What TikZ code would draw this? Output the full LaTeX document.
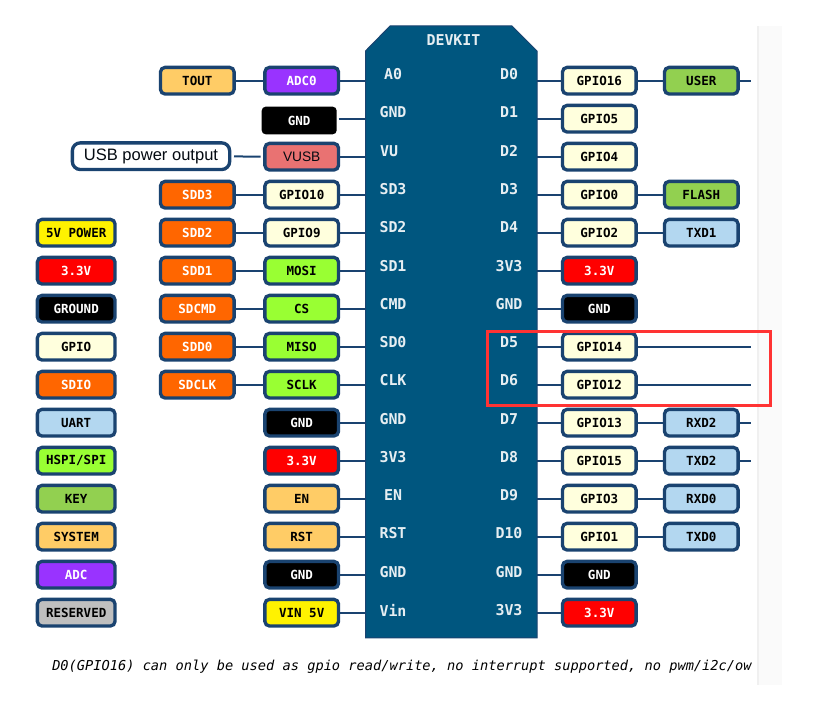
\documentclass[tikz,border=0pt]{standalone}
\usepackage{fontspec}
\setmainfont{Liberation Sans}
\setmonofont{DejaVu Sans Mono}
\definecolor{navy}{HTML}{1A4370}
\definecolor{boardblue}{HTML}{00567F}
\definecolor{boardtext}{HTML}{E6EEF2}
\definecolor{gpiofill}{HTML}{FFFFDD}
\definecolor{sdfill}{HTML}{FF6600}
\definecolor{spifill}{HTML}{99FF33}
\definecolor{keyfill}{HTML}{92D050}
\definecolor{sysfill}{HTML}{FFCC66}
\definecolor{adcfill}{HTML}{9933FF}
\definecolor{uartfill}{HTML}{B3D7F0}
\definecolor{resfill}{HTML}{BFBFBF}
\definecolor{usbfill}{HTML}{E97272}
\tikzset{
	pinbox/.style={draw=navy, line width=2.5pt, rounded corners=3.5pt, inner sep=0pt,
		minimum width=55.25pt, minimum height=20pt,
		font=\ttfamily\bfseries\fontsize{9.4}{11}\selectfont},
	gpiobox/.style={pinbox, fill=gpiofill, text=black},
	sdbox/.style={pinbox, fill=sdfill, text=white},
	spibox/.style={pinbox, fill=spifill, text=black},
	keybox/.style={pinbox, fill=keyfill, text=black},
	sysbox/.style={pinbox, fill=sysfill, text=black},
	adcbox/.style={pinbox, fill=adcfill, text=white},
	uartbox/.style={pinbox, fill=uartfill, text=black},
	resbox/.style={pinbox, fill=resfill, text=black},
	redbox/.style={pinbox, fill=red, text=white},
	gndbox/.style={pinbox, fill=black, text=white},
	yelbox/.style={pinbox, fill=yellow, text=black},
	usbbox/.style={pinbox, fill=usbfill, text=black!85!navy, font=\fontsize{10.3}{12}\selectfont},
	pinlabel/.style={text=boardtext, inner sep=0pt, font=\ttfamily\bfseries\fontsize{11.2}{13}\selectfont},
	wire/.style={draw=navy, line width=1.5pt}
}
\begin{document}
\begin{tikzpicture}[x=0.75pt,y=-0.75pt]
	\useasboundingbox (0,0) rectangle (826,716);
	\fill[black!2] (757,26) rectangle (782,685);
	\fill[black!6] (757,26) rectangle (759,685);
	% board
	\coordinate (boardW) at (365.5,332);
	\coordinate (boardE) at (537,332);
	\filldraw[draw=navy, line width=0.75pt, fill=boardblue] (365.5,51) -- (390,26) -- (512,26) -- (537,51) -- (537,638) -- (365.5,638) -- cycle;
	\node[pinlabel] (devkit) at (453.5,40) {DEVKIT};
	% pins on the left side
	\foreach \i/\txt/\sty [evaluate=\i as \y using 80.7+38*\i] in
		{0/ADC0/adcbox,2/VUSB/usbbox,3/GPIO10/gpiobox,4/GPIO9/gpiobox,5/MOSI/spibox,6/CS/spibox,7/MISO/spibox,
		8/SCLK/spibox,9/GND/gndbox,10/3.3V/redbox,11/EN/sysbox,12/RST/sysbox,13/GND/gndbox,14/VIN 5V/yelbox} {
		\node[\sty] (inL\i) at (301.7,\y) {\txt};
		\draw[wire] (inL\i.east) -- (inL\i.east -| boardW);
	}
	\foreach \i/\txt in {0/A0,1/GND,3/SD3,4/SD2,5/SD1,6/CMD,7/SD0,8/CLK,9/GND,10/3V3,11/EN,12/RST,13/GND,14/Vin}
		\node[pinlabel] (nameL\i) at (393,74.3+38.26*\i) {\txt};
	\node[pinlabel] (nameL2) at (389,150.8) {VU};
	% second column on the left
	\foreach \i/\txt/\sty [evaluate=\i as \y using 80.7+38*\i] in
		{0/TOUT/sysbox,3/SDD3/sdbox,4/SDD2/sdbox,5/SDD1/sdbox,6/SDCMD/sdbox,7/SDD0/sdbox,8/SDCLK/sdbox} {
		\node[\sty] (outL\i) at (197.3,\y) {\txt};
		\draw[wire] (outL\i) -- (inL\i);
	}
	% pins on the right side
	\foreach \i/\txt/\sty [evaluate=\i as \y using 80.7+38*\i] in
		{0/GPIO16/gpiobox,1/GPIO5/gpiobox,2/GPIO4/gpiobox,3/GPIO0/gpiobox,4/GPIO2/gpiobox,5/3.3V/redbox,6/GND/gndbox,7/GPIO14/gpiobox,
		8/GPIO12/gpiobox,9/GPIO13/gpiobox,10/GPIO15/gpiobox,11/GPIO3/gpiobox,12/GPIO1/gpiobox,13/GND/gndbox,14/3.3V/redbox} {
		\node[\sty] (inR\i) at (599.3,\y) {\txt};
		\draw[wire] (inR\i.west) -- (inR\i.west -| boardE);
	}
	\foreach \i/\txt in {0/D0,1/D1,2/D2,3/D3,4/D4,5/3V3,6/GND,7/D5,8/D6,9/D7,10/D8,11/D9,12/D10,13/GND,14/3V3}
		\node[pinlabel] (nameR\i) at (509,74.3+38.26*\i) {\txt};
	% second column on the right
	\foreach \i/\txt/\sty [evaluate=\i as \y using 80.7+38*\i] in
		{0/USER/keybox,3/FLASH/keybox,4/TXD1/uartbox,9/RXD2/uartbox,10/TXD2/uartbox,11/RXD0/uartbox,12/TXD0/uartbox} {
		\node[\sty] (outR\i) at (701.3,\y) {\txt};
		\draw[wire] (inR\i) -- (outR\i);
	}
	% free ends
	\foreach \i in {0,7,8,9,10} \coordinate (stub\i) at (750.7,80.7+38*\i);
	\foreach \i in {0,9,10} \draw[wire] (outR\i.east) -- (stub\i);
	\foreach \i in {7,8} \draw[wire] (inR\i.east) -- (stub\i);
	% ground pin without a frame
	\node[fill=black, text=white, rounded corners=3pt, inner sep=0pt, minimum width=56.25pt, minimum height=20.75pt,
		font=\ttfamily\bfseries\fontsize{9.4}{11}\selectfont] (inL1) at (299.2,120.5) {GND};
	\coordinate (gndstub) at (338.5,118.7);
	\draw[wire] (gndstub) -- (gndstub -| boardW);
	% USB note
	\node[draw=navy, fill=white, line width=2.5pt, rounded corners=6pt, inner sep=0pt, minimum width=118pt, minimum height=20pt,
		font=\fontsize{12.4}{14}\selectfont, text=black!85!navy] (usbnote) at (151,156.2) {\raisebox{1.5pt}{USB power output}};
	\draw[wire, shorten <=2pt, shorten >=2pt] (usbnote) -- (inL2);
	% legend
	\foreach \i/\txt/\sty [evaluate=\i as \y using 80.7+38*\i] in
		{4/5V POWER/yelbox,5/3.3V/redbox,6/GROUND/gndbox,7/GPIO/gpiobox,8/SDIO/sdbox,9/UART/uartbox,
		10/HSPI\slash SPI/spibox,11/KEY/keybox,12/SYSTEM/sysbox,13/ADC/adcbox,14/RESERVED/resbox}
		\node[\sty, minimum width=58.25pt] (legend\i) at (76.2,\y) {\txt};
	% note below the board
	\node[anchor=west, inner sep=0pt, font=\ttfamily\itshape\fontsize{10.25}{12}\selectfont] (note) at (52,666.5)
		{D0(GPIO16) can only be used as gpio read/write, no interrupt supported, no pwm/i2c/ow};
	% red frame
	\node[draw=red!80!white, line width=2.25pt, inner sep=0pt, minimum width=212pt, minimum height=55.5pt] (frame) at (628.7,368.5) {};
\end{tikzpicture}
\end{document}
